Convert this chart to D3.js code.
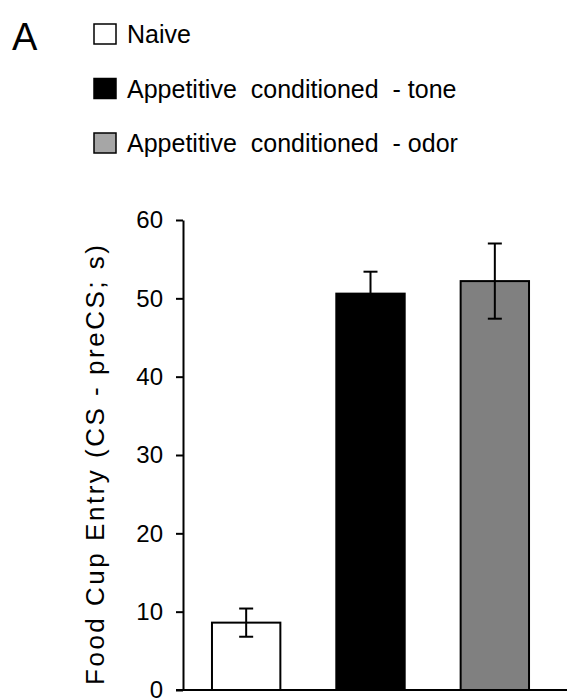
<!DOCTYPE html>
<html><head><meta charset="utf-8">
<script src="https://cdn.jsdelivr.net/npm/d3@7"></script>
<style>body{margin:0;background:#fff;} text{font-family:"Liberation Sans",Arial,sans-serif;}</style>
</head><body>
<svg id="c" width="567" height="700"></svg>
<script>
const categories = ["Naive", "Appetitive conditioned - tone", "Appetitive conditioned - odor"];
const means = [8.6, 50.6, 52.2];
const sems = [1.8, 2.8, 4.8];
const barColors = ["#ffffff", "#000000", "#808080"];
const legendColors = ["#ffffff", "#000000", "#a6a6a6"];
const yTicks = [0, 10, 20, 30, 40, 50, 60];
const yLabel = "Food Cup Entry (CS - preCS; s)";
const panel = "A";

const svg = d3.select("#c");
const y = d3.scaleLinear().domain([0, 60]).range([690, 220]);
const x = d3.scaleBand().domain(categories).range([184, 557]).paddingInner(0.45).paddingOuter(0.225);

// bars
svg.selectAll("rect.bar").data(categories).join("rect")
  .attr("x", d => x(d)).attr("width", x.bandwidth())
  .attr("y", (d,i) => y(means[i])).attr("height", (d,i) => y(0) - y(means[i]))
  .attr("fill", (d,i) => barColors[i]).attr("stroke", "#000").attr("stroke-width", 2);

// error bars
const eb = svg.selectAll("g.eb").data(categories).join("g");
eb.append("line").attr("x1", d => x(d)+x.bandwidth()/2).attr("x2", d => x(d)+x.bandwidth()/2)
  .attr("y1", (d,i) => y(means[i]-sems[i])).attr("y2", (d,i) => y(means[i]+sems[i]))
  .attr("stroke", "#000").attr("stroke-width", 2);
[1, -1].forEach(s => {
  eb.append("line").attr("x1", d => x(d)+x.bandwidth()/2-7).attr("x2", d => x(d)+x.bandwidth()/2+7)
    .attr("y1", (d,i) => y(means[i]+s*sems[i])).attr("y2", (d,i) => y(means[i]+s*sems[i]))
    .attr("stroke", "#000").attr("stroke-width", 2);
});

// y axis
const ya = svg.append("g").attr("transform", "translate(183,0)")
  .call(d3.axisLeft(y).tickValues(yTicks).tickSize(7).tickPadding(13).tickSizeOuter(0));
ya.attr("font-size", null).attr("font-family", null);
ya.select(".domain").attr("stroke-width", 2);
ya.selectAll(".tick line").attr("stroke-width", 2);
ya.selectAll(".tick text").attr("font-size", 24).attr("fill", "#000");

// x axis line
svg.append("line").attr("x1", 176).attr("x2", 567).attr("y1", y(0)).attr("y2", y(0))
  .attr("stroke", "#000").attr("stroke-width", 2);

// y label
svg.append("text").attr("transform", `translate(104,${(y(0)+y(60))/2 + 10}) rotate(-90)`)
  .attr("text-anchor", "middle").attr("font-size", 26)
  .attr("textLength", 440).attr("lengthAdjust", "spacing").text(yLabel);

// panel letter
svg.append("text").attr("x", 12).attr("y", 50).attr("font-size", 38).text(panel);

// legend
const lg = svg.selectAll("g.lg").data(categories).join("g")
  .attr("transform", (d,i) => `translate(94,${24 + i*54.5})`);
lg.append("rect").attr("width", 22).attr("height", 20)
  .attr("fill", (d,i) => legendColors[i]).attr("stroke", "#000").attr("stroke-width", 1.5);
const lt = lg.append("text").attr("x", 33).attr("y", 19).attr("font-size", 25);
lt.each(function(d) {
  const k = d.lastIndexOf(" ");
  const t = d3.select(this);
  if (k < 0) { t.text(d); return; }
  t.append("tspan").attr("word-spacing", 7).text(d.slice(0, k));
  t.append("tspan").attr("word-spacing", 0).text(d.slice(k));
});
</script>
</body></html>
